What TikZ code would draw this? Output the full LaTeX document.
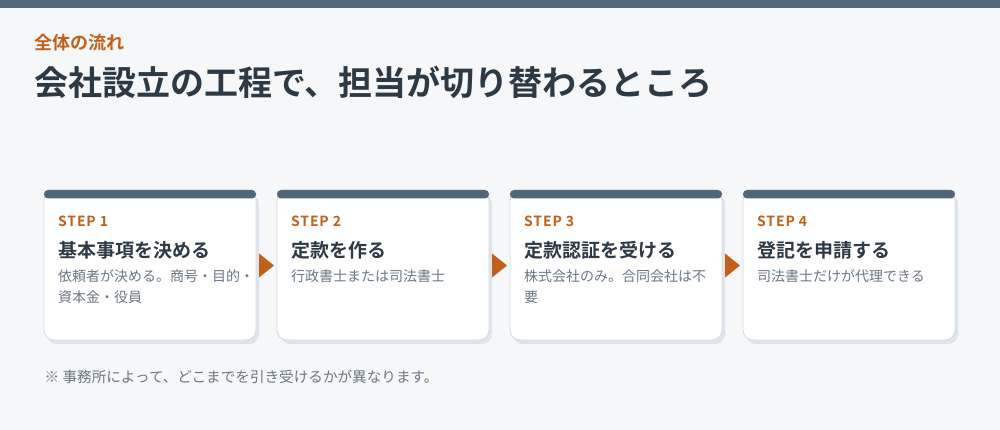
\documentclass[tikz,border=0pt]{standalone}
\usepackage{fontspec}
\setmainfont{Noto Sans CJK JP}[BoldFont={Noto Sans CJK JP Bold}]
\newfontfamily\stepfont{Noto Sans CJK JP Bold}[LetterSpace=6]
\usetikzlibrary{calc}
\definecolor{bg}{HTML}{F5F7F9}
\definecolor{band}{HTML}{52667A}
\definecolor{accent}{HTML}{C0601A}
\definecolor{ink}{HTML}{2D3A46}
\definecolor{muted}{HTML}{6B7785}
\definecolor{cardshadow}{HTML}{DEE4EB}
\definecolor{edge}{HTML}{D3DAE2}
\begin{document}
\begin{tikzpicture}[x=1pt,y=-1pt,
  card/.style={minimum width=212pt, minimum height=150pt, inner sep=0pt,
    rounded corners=10pt, fill=white, draw=edge, line width=0.8pt},
  topbar/.style={fill=band, rounded corners=4pt},
  steplabel/.style={anchor=base west, inner sep=0pt, text=accent,
    font=\stepfont\fontsize{14}{14}\selectfont},
  steptitle/.style={anchor=base west, inner sep=0pt, text=ink,
    font=\bfseries\fontsize{19}{19}\selectfont},
  stepdesc/.style={anchor=base west, inner sep=0pt, text=muted,
    font=\fontsize{14}{21}\selectfont},
  flowarrow/.style={fill=accent}]
\fill[bg] (0,0) rectangle (1000,430);
\useasboundingbox (0,0) rectangle (1000,430);
\fill[band] (0,0) rectangle (1000,8.5);
\node[anchor=base west, inner sep=0pt, text=accent,
  font=\bfseries\fontsize{18}{18}\selectfont] (kicker) at (34.5,49.5) {全体の流れ};
\node[anchor=base west, inner sep=0pt, text=ink,
  font=\bfseries\fontsize{34}{34}\selectfont] (title) at (34,95.5)
  {会社設立の工程で、担当が切り替わるところ};
\foreach \i/\x/\lab/\ttl/\dsc in {
  1/44/STEP 1/基本事項を決める/{依頼者が決める。商号・目的・\\資本金・役員},
  2/277/STEP 2/定款を作る/{行政書士または司法書士},
  3/510/STEP 3/定款認証を受ける/{株式会社のみ。合同会社は不\\要},
  4/743/STEP 4/登記を申請する/{司法書士だけが代理できる}}{
  \fill[cardshadow, rounded corners=10pt] (\x+3,194) rectangle (\x+215,344);
  \node[card] (c\i) at (\x+106,265) {};
  \fill[topbar] (\x,190) rectangle (\x+212,198.5);
  \node[steplabel] (s\i) at (\x+14,227) {\lab};
  \node[steptitle] (t\i) at (\x+14,257.5) {\ttl};
  \node[stepdesc] (d\i) at (\x+14,281)
    {\begin{tabular}[t]{@{}l@{}}\dsc\end{tabular}};
}
\foreach \a/\b in {1/2,2/3,3/4}{
  \coordinate (m\a) at ($(c\a.east)!0.5!(c\b.west)$);
  \fill[flowarrow] ($(m\a)+(-7.5,-11.5)$) -- ($(m\a)+(7.5,0.5)$) -- ($(m\a)+(-7.5,12.5)$) -- cycle;
}
\node[anchor=base west, inner sep=0pt, text=muted,
  font=\fontsize{14.6}{14.6}\selectfont] (note) at (44.5,382.5)
  {※ 事務所によって、どこまでを引き受けるかが異なります。};
\end{tikzpicture}
\end{document}
